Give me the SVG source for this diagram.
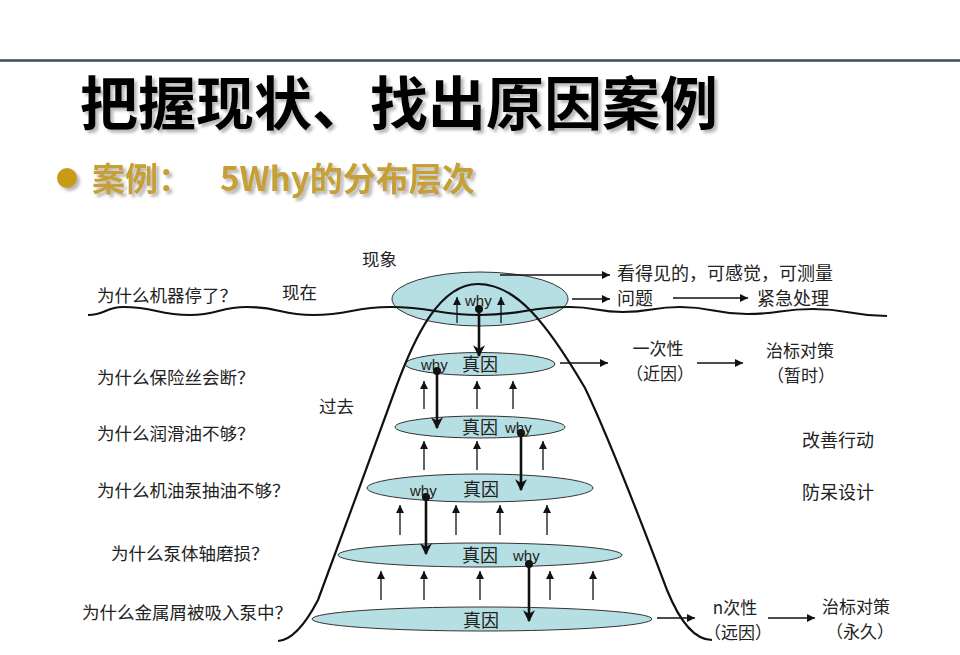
<svg xmlns="http://www.w3.org/2000/svg" width="960" height="655" viewBox="0 0 960 655">
<style>
.t{font-family:"Noto Sans CJK SC","Noto Sans",sans-serif;font-size:17.5px;fill:#222}
.r{font-family:"Noto Sans CJK SC","Noto Sans",sans-serif;font-size:18px;fill:#222}
.s{font-family:"Noto Sans CJK SC","Noto Sans",sans-serif;font-size:17px;fill:#222;text-anchor:middle}
.w{font-family:"Liberation Sans",Arial,sans-serif;font-size:15px;fill:#222}
.e{fill:#b6dfe3;stroke:#333;stroke-width:1}
.thin{stroke:#111;stroke-width:1.3;fill:none;marker-end:url(#a)}
.thick{stroke:#111;stroke-width:2.6;fill:none;marker-end:url(#b)}
.curve{stroke:#111;stroke-width:2.2;fill:none}
.dot{fill:#111}
</style>
<defs>
<marker id="a" viewBox="0 0 10 10" refX="10" refY="5" markerWidth="9" markerHeight="8" markerUnits="userSpaceOnUse" orient="auto"><path d="M0,0 L10,5 L0,10 z" fill="#111"/></marker>
<marker id="b" viewBox="0 0 10 10" refX="9" refY="5" markerWidth="12" markerHeight="12" markerUnits="userSpaceOnUse" orient="auto"><path d="M0,0 L10,5 L0,10 L3,5 z" fill="#111"/></marker>
<filter id="sh" x="-5%" y="-20%" width="115%" height="150%"><feDropShadow dx="3" dy="3" stdDeviation="1.5" flood-color="#888" flood-opacity="0.6"/></filter>
</defs>
<rect width="960" height="655" fill="#fff"/>
<line x1="0" y1="60.5" x2="960" y2="60.5" stroke="#3b4a55" stroke-width="2.6"/>
<g id="title">
<text x="80" y="125" font-family="'Noto Sans CJK SC',sans-serif" font-size="58" font-weight="700" fill="#000" filter="url(#sh)">把握现状、找出原因案例</text>
</g>
<g id="subtitle" filter="url(#sh)">
<circle cx="67" cy="178" r="10" fill="#c99a14"/>
<text y="191" font-family="'Noto Sans CJK SC',sans-serif" font-size="33" font-weight="700" fill="#c6a035"><tspan x="92">案例：</tspan><tspan x="220">5Why的分布层次</tspan></text>
</g>

<g id="layers">
<g id="layer1"><ellipse class="e" cx="480" cy="299" rx="88" ry="27"/></g>
<g id="layer2"><ellipse class="e" cx="480" cy="364" rx="75" ry="11.5"/></g>
<g id="layer3"><ellipse class="e" cx="480" cy="427" rx="85" ry="11"/></g>
<g id="layer4"><ellipse class="e" cx="480" cy="488" rx="113" ry="14"/></g>
<g id="layer5"><ellipse class="e" cx="480" cy="555" rx="142" ry="12"/></g>
<g id="layer6"><ellipse class="e" cx="482" cy="619" rx="170" ry="12"/></g>
</g>

<g id="curves">
<path id="wave" class="curve" d="M88,315 C105.5,315 105.5,307 123,307 C156.5,307 156.5,315 190,315 C218.5,315 218.5,307 247,307 C280,307 280,315 313,315 C351.5,315 351.5,307 390,307 C435,307 435,315 480,315 C525,315 525,307 570,307 C596.5,307 596.5,312 623,312 C651.5,312 651.5,307 680,307 C713.5,307 713.5,314 747,314 C780,314 780,309 813,309 C850,309 850,316 887,316"/>
<path id="bell" class="curve" d="M278,641 C292,640 305,625 318,600 C335,555 375,445 395,390 C415,335 440,284 478,284 C515,284 545,320 585,388 C610,440 650,545 667,590 C680,622 695,640 712,640"/>
</g>

<g id="connectors">
<line class="thin" x1="500" y1="275" x2="610" y2="275"/>
<line class="thin" x1="572" y1="299" x2="610" y2="299"/>
<line class="thin" x1="673" y1="298" x2="748" y2="298"/>
<line class="thin" x1="560" y1="363" x2="608" y2="363"/>
<line class="thin" x1="697" y1="363" x2="743" y2="363"/>
<line class="thin" x1="657" y1="618" x2="695" y2="618"/>
<line class="thin" x1="768" y1="618" x2="815" y2="618"/>
<line class="thin" x1="457" y1="323" x2="457" y2="297"/>
<line class="thin" x1="501" y1="323" x2="501" y2="297"/>
<line class="thin" x1="424" y1="409" x2="424" y2="381"/>
<line class="thin" x1="477" y1="409" x2="477" y2="381"/>
<line class="thin" x1="513" y1="409" x2="513" y2="381"/>
<line class="thin" x1="424" y1="470" x2="424" y2="441"/>
<line class="thin" x1="477" y1="470" x2="477" y2="441"/>
<line class="thin" x1="543" y1="470" x2="543" y2="441"/>
<line class="thin" x1="400" y1="535" x2="400" y2="505"/>
<line class="thin" x1="456" y1="535" x2="456" y2="505"/>
<line class="thin" x1="500" y1="535" x2="500" y2="505"/>
<line class="thin" x1="547" y1="535" x2="547" y2="505"/>
<line class="thin" x1="381" y1="600" x2="381" y2="571"/>
<line class="thin" x1="424" y1="600" x2="424" y2="571"/>
<line class="thin" x1="480" y1="600" x2="480" y2="571"/>
<line class="thin" x1="550" y1="600" x2="550" y2="571"/>
<line class="thin" x1="593" y1="600" x2="593" y2="571"/>
<line class="thick" x1="479" y1="309" x2="479" y2="356"/>
<line class="thick" x1="437" y1="371" x2="437" y2="428"/>
<line class="thick" x1="521" y1="433" x2="521" y2="490"/>
<line class="thick" x1="426" y1="497" x2="426" y2="554"/>
<line class="thick" x1="529" y1="564" x2="529" y2="621"/>
<circle class="dot" cx="479" cy="309" r="4"/>
<circle class="dot" cx="437" cy="371" r="4"/>
<circle class="dot" cx="521" cy="433" r="4"/>
<circle class="dot" cx="426" cy="497" r="4"/>
<circle class="dot" cx="529" cy="564" r="4"/>
</g>

<g id="layer-labels">
<text class="w" x="465" y="306">why</text>
<text class="w" x="421" y="370">why</text>
<text class="r" x="462" y="371">真因</text>
<text class="r" x="462" y="434">真因</text>
<text class="w" x="505" y="433">why</text>
<text class="w" x="410" y="496">why</text>
<text class="r" x="463" y="496">真因</text>
<text class="r" x="462" y="562">真因</text>
<text class="w" x="513" y="561">why</text>
<text class="r" x="463" y="627">真因</text>
</g>

<g id="questions">
<text class="t" x="97" y="302">为什么机器停了？</text>
<text class="t" x="97" y="384">为什么保险丝会断？</text>
<text class="t" x="97" y="440">为什么润滑油不够？</text>
<text class="t" x="97" y="497">为什么机油泵抽油不够？</text>
<text class="t" x="111" y="560">为什么泵体轴磨损？</text>
<text class="t" x="82" y="619">为什么金属屑被吸入泵中？</text>
</g>

<g id="time-labels">
<text class="t" x="362" y="266">现象</text>
<text class="t" x="282" y="299">现在</text>
<text class="t" x="319" y="413">过去</text>
</g>

<g id="outcomes">
<text class="r" x="617" y="280">看得见的，可感觉，可测量</text>
<text class="r" x="617" y="305">问题</text>
<text class="r" x="757" y="305">紧急处理</text>
<text class="s" x="658" y="355">一次性</text>
<text class="s" x="660" y="380">（近因）</text>
<text class="s" x="800" y="357">治标对策</text>
<text class="s" x="801" y="382">（暂时）</text>
<text class="r" x="802" y="447">改善行动</text>
<text class="r" x="802" y="499">防呆设计</text>
<text class="s" x="735" y="614">n次性</text>
<text class="s" x="738" y="639">（远因）</text>
<text class="s" x="856" y="613">治标对策</text>
<text class="s" x="860" y="638">（永久）</text>
</g>
</svg>
